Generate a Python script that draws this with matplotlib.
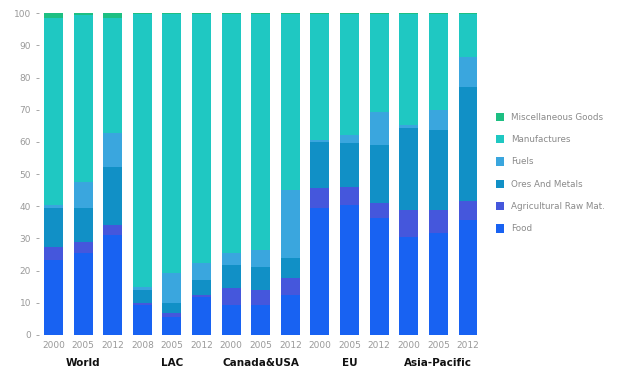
import numpy as np
import matplotlib.pyplot as plt
from matplotlib.patches import Patch

years = ['2000', '2005', '2012', '2008', '2005', '2012', '2000', '2005', '2012',
         '2000', '2005', '2012', '2000', '2005', '2012']
regions = ['World', 'LAC', 'Canada&USA', 'EU', 'Asia-Pacific']

food = [23.3, 25.4, 31.1, 9.3, 5.7, 11.9, 9.3, 9.3, 12.4, 39.4, 40.4, 36.3, 30.6, 31.6, 35.8]
agri = [4.2, 3.6, 3.1, 0.7, 1.0, 0.5, 5.2, 4.7, 5.2, 6.2, 5.7, 4.6, 8.3, 7.3, 5.7]
ores = [11.9, 10.4, 18.1, 4.0, 3.1, 4.7, 7.3, 7.2, 6.2, 14.5, 13.5, 18.2, 25.3, 24.8, 35.7]
fuels = [1.0, 8.3, 10.4, 1.0, 9.4, 5.2, 3.6, 5.2, 21.3, 0.5, 2.6, 10.3, 1.1, 6.3, 9.3]
manuf = [58.1, 51.8, 35.8, 84.7, 80.5, 77.4, 74.3, 73.3, 54.6, 39.1, 37.5, 30.3, 34.4, 29.7, 13.2]
misc = [1.5, 0.5, 1.5, 0.3, 0.3, 0.3, 0.3, 0.3, 0.3, 0.3, 0.3, 0.3, 0.3, 0.3, 0.3]

series = [
    ('Food', food, '#1862f2'),
    ('Agricultural Raw Mat.', agri, '#4557dc'),
    ('Ores And Metals', ores, '#1190c6'),
    ('Fuels', fuels, '#3aa6de'),
    ('Manufactures', manuf, '#1fc8c2'),
    ('Miscellaneous Goods', misc, '#1dbf82'),
]

fig = plt.figure(figsize=(6.27, 3.74), dpi=100)
ax = fig.add_axes([38.7 / 627, 1 - 335 / 374, (482.8 - 38.7) / 627, (335 - 13.3) / 374])

x = np.arange(len(years))
bottom = np.zeros(len(years))
for name, vals, col in series:
    ax.bar(x, vals, width=0.64, bottom=bottom, color=col, label=name, linewidth=0)
    bottom += np.array(vals)

ax.set_xlim(-0.5, len(years) - 0.5)
ax.set_ylim(0, 100)
ax.set_yticks(range(0, 101, 10))
ax.set_xticks(x)
ax.set_xticklabels(years)
ax.tick_params(axis='both', colors='#999999', labelsize=6.5, length=2, width=0.6)
ax.tick_params(axis='x', length=0, pad=4)
for s in ax.spines.values():
    s.set_visible(False)

# region names under the middle bar of each group
for i, r in enumerate(regions):
    ax.text(3 * i + 1, -8.6, r, ha='center', va='center', fontsize=7.5,
            fontweight='bold', color='#111111')

handles = [Patch(facecolor=c, label=n) for n, v, c in series][::-1]
fig.legend(handles=handles, loc='center left', bbox_to_anchor=(488 / 627, 1 - 173 / 374),
           frameon=False, fontsize=6.3, handlelength=0.9, handleheight=1.1,
           handletextpad=0.8, labelspacing=1.5, labelcolor='#8a8a8a')

fig.savefig('out.png', dpi=100)
